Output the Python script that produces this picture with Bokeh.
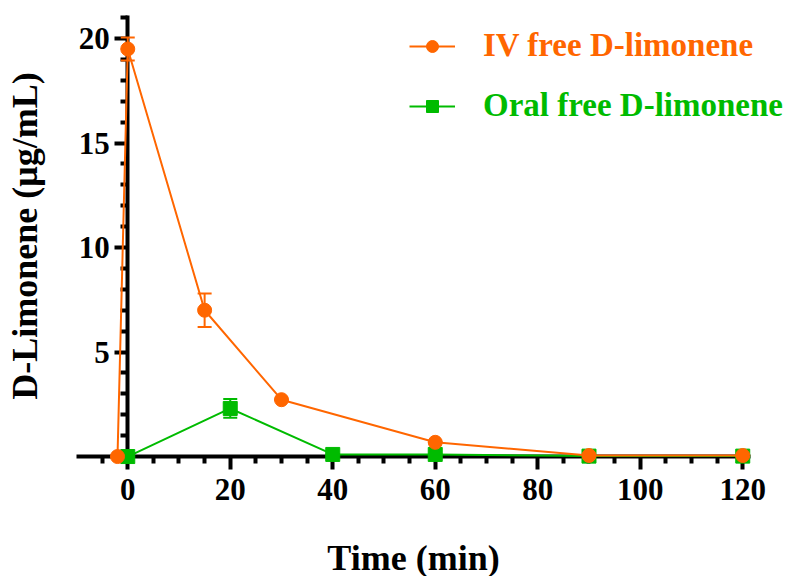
from bokeh.plotting import figure
from bokeh.models import (Range1d, LinearAxis, FixedTicker, Whisker, TeeHead,
                          ColumnDataSource, Legend, LegendItem)
from bokeh.embed import file_html
from bokeh.resources import INLINE

# Plasma concentration of D-limonene over time
iv_time = [-2, 0, 15, 30, 60, 90, 120]
iv_conc = [0.0, 19.5, 7.0, 2.72, 0.68, 0.05, 0.05]
iv_sd = [0.0, 0.55, 0.8, 0.0, 0.0, 0.0, 0.0]

oral_time = [0, 20, 40, 60, 90, 120]
oral_conc = [0.0, 2.3, 0.1, 0.1, 0.02, 0.02]
oral_sd = [0.0, 0.45, 0.0, 0.0, 0.0, 0.0]

x_major = [0, 20, 40, 60, 80, 100, 120]
x_minor = [-5, 5, 10, 15, 25, 30, 35, 45, 50, 55, 65, 70, 75, 85, 90, 95, 105, 110, 115]
y_major = [5, 10, 15, 20]
y_minor = [1, 2, 3, 4, 6, 7, 8, 9, 11, 12, 13, 14, 16, 17, 18, 19, 21]

ORANGE = "#FF6600"
GREEN = "#00BB00"
FONT = "Liberation Serif"

# The frame fills the canvas so that axes crossing at zero are never clipped;
# the axis lines themselves are limited with `bounds`.
p = figure(width=788, height=576, x_range=Range1d(-24.83, 128.93), y_range=Range1d(-5.74, 21.82),
           output_backend="svg", toolbar_location=None, x_axis_type=None, y_axis_type=None,
           min_border=0)
p.outline_line_color = None
p.grid.visible = False


def style_axis(ax):
    ax.axis_line_width = 4
    ax.axis_line_color = "black"
    ax.major_tick_line_width = 4
    ax.minor_tick_line_width = 4
    ax.major_tick_in = 0
    ax.minor_tick_in = 0
    ax.major_tick_out = 13
    ax.minor_tick_out = 7
    ax.major_label_text_font = FONT
    ax.major_label_text_font_style = "bold"
    ax.major_label_text_font_size = "31px"
    ax.major_label_text_color = "black"
    ax.axis_label_text_font = FONT
    ax.axis_label_text_font_style = "bold"
    ax.axis_label_text_font_size = "36px"
    ax.axis_label_text_color = "black"


xaxis = LinearAxis(ticker=FixedTicker(ticks=x_major, minor_ticks=x_minor), bounds=(-10, 121.5),
                   fixed_location=0, axis_label="Time (min)", level="underlay")
style_axis(xaxis)
xaxis.major_label_standoff = 9
xaxis.axis_label_standoff = 35
p.add_layout(xaxis, "below")

yaxis = LinearAxis(ticker=FixedTicker(ticks=y_major, minor_ticks=y_minor), bounds=(0, 21.1),
                   fixed_location=0, axis_label="D-Limonene (μg/mL)", level="underlay")
style_axis(yaxis)
yaxis.major_label_standoff = 5
yaxis.axis_label_standoff = 31
p.add_layout(yaxis, "left")

iv_src = ColumnDataSource(dict(t=iv_time, c=iv_conc,
                               lo=[c - s for c, s in zip(iv_conc, iv_sd)],
                               hi=[c + s for c, s in zip(iv_conc, iv_sd)]))
oral_src = ColumnDataSource(dict(t=oral_time, c=oral_conc,
                                 lo=[c - s for c, s in zip(oral_conc, oral_sd)],
                                 hi=[c + s for c, s in zip(oral_conc, oral_sd)]))

oral_line = p.line("t", "c", source=oral_src, line_color=GREEN, line_width=2)
oral_pts = p.scatter("t", "c", source=oral_src, marker="square", size=14,
                     fill_color=GREEN, line_color=GREEN)
iv_line = p.line("t", "c", source=iv_src, line_color=ORANGE, line_width=2)
iv_pts = p.scatter("t", "c", source=iv_src, marker="circle", size=14,
                   fill_color=ORANGE, line_color=ORANGE)

for src, col in ((oral_src, GREEN), (iv_src, ORANGE)):
    p.add_layout(Whisker(source=src, base="t", lower="lo", upper="hi", dimension="height",
                         line_color=col, line_width=2,
                         upper_head=TeeHead(size=14, line_color=col, line_width=2),
                         lower_head=TeeHead(size=14, line_color=col, line_width=2)))


def make_legend(label, renderers, color, loc):
    lg = Legend(items=[LegendItem(label=label, renderers=renderers)], location=loc,
                glyph_width=46, glyph_height=30, label_standoff=28,
                label_text_font=FONT, label_text_font_style="bold",
                label_text_font_size="33px", label_text_color=color,
                padding=0, margin=0, spacing=0,
                border_line_alpha=0, background_fill_alpha=0)
    p.add_layout(lg)


make_legend("IV free D-limonene", [iv_line, iv_pts], ORANGE, (409, 512))
make_legend("Oral free D-limonene", [oral_line, oral_pts], GREEN, (409, 452))

open("out.html", "w").write(file_html(p, INLINE))
